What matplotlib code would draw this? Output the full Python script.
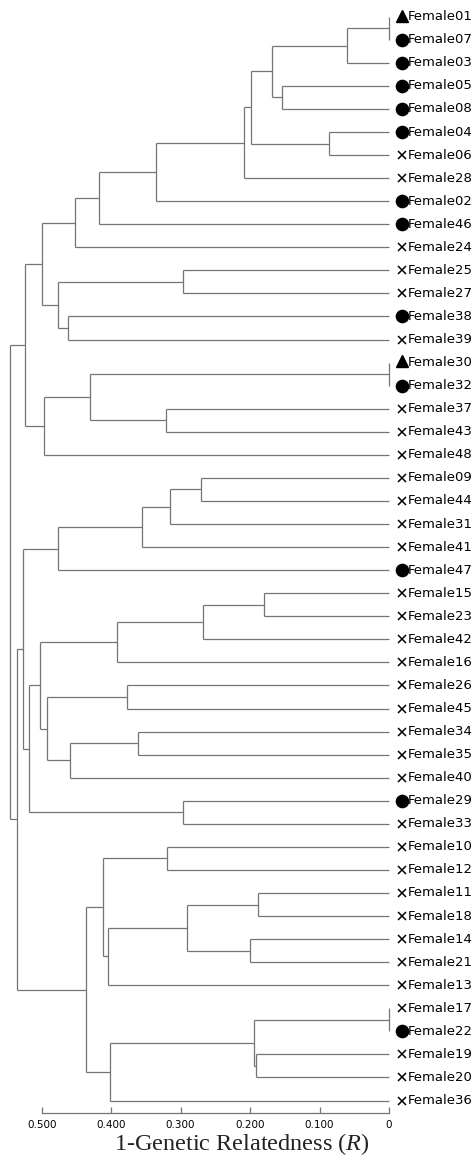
import matplotlib
matplotlib.use("Agg")
import matplotlib.pyplot as plt

# leaf labels (top to bottom) and their group symbol
labels = ["Female01", "Female07", "Female03", "Female05", "Female08", "Female04",
          "Female06", "Female28", "Female02", "Female46", "Female24", "Female25",
          "Female27", "Female38", "Female39", "Female30", "Female32", "Female37",
          "Female43", "Female48", "Female09", "Female44", "Female31", "Female41",
          "Female47", "Female15", "Female23", "Female42", "Female16", "Female26",
          "Female45", "Female34", "Female35", "Female40", "Female29", "Female33",
          "Female10", "Female12", "Female11", "Female18", "Female14", "Female21",
          "Female13", "Female17", "Female22", "Female19", "Female20", "Female36"]
groups = ["tri", "dot", "dot", "dot", "dot", "dot", "x", "x", "dot", "dot", "x", "x",
          "x", "dot", "x", "tri", "dot", "x", "x", "x", "x", "x", "x", "x",
          "dot", "x", "x", "x", "x", "x", "x", "x", "x", "x", "dot", "x",
          "x", "x", "x", "x", "x", "x", "x", "x", "dot", "x", "x", "x"]

# merges: (left node, right node, height); new nodes numbered from 48
merge_left = [0, 48, 3, 49, 5, 51, 53, 54, 55, 56, 11, 13, 58, 57, 15, 17, 62, 64, 61,
              20, 67, 68, 69, 25, 71, 72, 29, 31, 75, 74, 73, 34, 78, 70,
              36, 38, 40, 83, 85, 82, 43, 45, 88, 90, 87, 81, 66]
merge_right = [1, 2, 4, 50, 6, 52, 7, 8, 9, 10, 12, 14, 59, 60, 16, 18, 63, 19, 65,
               21, 22, 23, 24, 26, 27, 28, 30, 32, 33, 76, 77, 35, 79, 80,
               37, 39, 41, 84, 42, 86, 44, 46, 89, 47, 91, 92, 93]
merge_height = [0.0, 0.061, 0.154, 0.168, 0.086, 0.198, 0.209, 0.336, 0.417, 0.452,
                0.296, 0.462, 0.476, 0.500, 0.0, 0.3215, 0.430, 0.497, 0.524,
                0.270, 0.315, 0.355, 0.4765, 0.1795, 0.268, 0.391, 0.377, 0.361,
                0.459, 0.492, 0.503, 0.296, 0.518, 0.527,
                0.320, 0.189, 0.200, 0.291, 0.405, 0.411, 0.0, 0.192, 0.195, 0.401,
                0.436, 0.536, 0.546]

plt.rcParams['mathtext.fontset'] = 'custom'
plt.rcParams['mathtext.rm'] = 'Liberation Serif'
plt.rcParams['mathtext.it'] = 'Liberation Serif:italic'

fig = plt.figure(figsize=(4.75, 11.65), dpi=100)
ax = fig.add_axes([6.9 / 475, 52 / 1165, (389 - 6.9) / 475, 1113 / 1165])

n = len(labels)
ypos = {i: float(i) for i in range(n)}
xpos = {i: 0.0 for i in range(n)}
line_col = "#747474"

for k in range(len(merge_left)):
    a, b, h = merge_left[k], merge_right[k], merge_height[k]
    node = n + k
    for c in (a, b):
        ax.plot([xpos[c], h], [ypos[c], ypos[c]], color=line_col, lw=0.9,
                solid_capstyle="butt", clip_on=False)
    ax.plot([h, h], [ypos[a], ypos[b]], color=line_col, lw=0.9,
            solid_capstyle="butt", clip_on=False)
    xpos[node] = h
    ypos[node] = (ypos[a] + ypos[b]) / 2

# leaf symbols and names
for i in range(n):
    g = groups[i]
    if g == "dot":
        ax.plot(-0.0183, i, marker="o", ms=8.8, color="black", clip_on=False)
    elif g == "tri":
        ax.plot(-0.0183, i - 0.05, marker="^", ms=8.2, color="black", clip_on=False)
    else:
        ax.plot(-0.0183, i, marker="x", ms=5.6, mew=1.1, color="black", clip_on=False)
    ax.text(-0.0275, i, labels[i], ha="left", va="center", fontsize=9.5,
            color="black", clip_on=False)

ax.set_xlim(0.55, 0)
ax.set_ylim((1113 - 16.7) / 23.06, -16.7 / 23.06)

for s in ["top", "left", "right"]:
    ax.spines[s].set_visible(False)
ax.spines["bottom"].set_bounds(0, 0.5)
ax.spines["bottom"].set_color(line_col)
ax.spines["bottom"].set_linewidth(0.9)
ax.set_yticks([])
ax.set_xticks([0.5, 0.4, 0.3, 0.2, 0.1, 0])
ax.set_xticklabels(["0.500", "0.400", "0.300", "0.200", "0.100", "0"])
ax.tick_params(axis="x", direction="in", length=4, width=0.9, color=line_col,
               labelsize=7.5, pad=5)

fig.text(242 / 475, 15 / 1165, "1-Genetic Relatedness ($\\mathit{R}$)",
         ha="center", va="baseline", fontsize=17.5, family="Liberation Serif",
         color="#222222")

fig.savefig("out.png", dpi=100)
